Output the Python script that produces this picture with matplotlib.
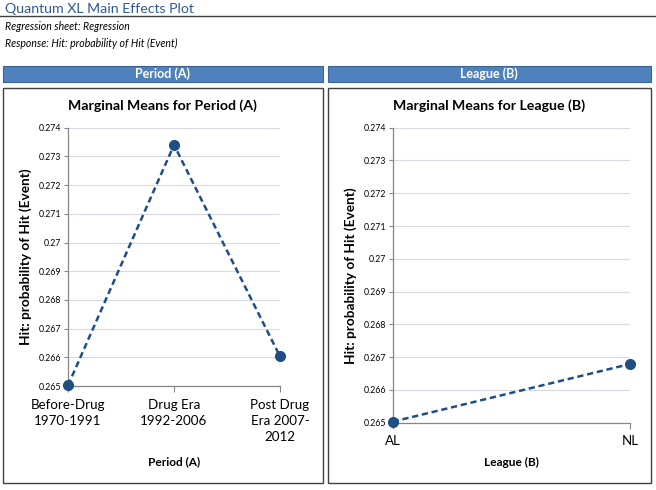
import matplotlib
matplotlib.use("Agg")
import matplotlib.pyplot as plt
from matplotlib.patches import Rectangle
from matplotlib.lines import Line2D

plt.rcParams['font.family'] = ['Lato', 'DejaVu Sans']

# data
period_labels = ["Before-Drug\n1970-1991", "Drug Era\n1992-2006", "Post Drug\nEra 2007-\n2012"]
period_means = [0.26502, 0.27340, 0.26603]
league_labels = ["AL", "NL"]
league_means = [0.26503, 0.26679]
y_ticks = [0.265, 0.266, 0.267, 0.268, 0.269, 0.27, 0.271, 0.272, 0.273, 0.274]

W, H = 656, 490
fig = plt.figure(figsize=(W / 100, H / 100), dpi=100)

def fx(x):
    return x / W

def fy(y):
    return 1 - y / H

def rect(x0, y0, x1, y1, **kw):
    fig.add_artist(Rectangle((fx(x0), fy(y1)), fx(x1) - fx(x0), fy(y0) - fy(y1),
                             transform=fig.transFigure, **kw))

navy = "#1F4E85"
grid_c = "#D9D9E6"
spine_c = "#868686"

# header text
fig.text(fx(5), fy(9), "Quantum XL Main Effects Plot", fontsize=10.2, color="#2E5A95",
         ha="left", va="center")
fig.add_artist(Line2D([0, 1], [fy(16.5), fy(16.5)], transform=fig.transFigure,
                      color="#404040", lw=1))
fig.text(fx(5), fy(26.5), "Regression sheet: Regression", fontsize=7.6, style="italic",
         ha="left", va="center")
fig.text(fx(5), fy(43), "Response: Hit: probability of Hit (Event)", fontsize=7.6,
         style="italic", ha="left", va="center")

panels = [(2.7, 322.7), (327.7, 650.5)]
heads = ["Period (A)", "League (B)"]
for (x0, x1), h in zip(panels, heads):
    rect(x0, 65.7, x1, 81.7, facecolor="#4F81BD", edgecolor="#3A6496", lw=0.8)
    fig.text(fx((x0 + x1) / 2), fy(73.7), h, color="white", fontsize=9, fontweight="bold",
             ha="center", va="center")
    rect(x0, 88, x1, 482.7, facecolor="none", edgecolor="#404040", lw=1)


def draw(ax, labels, means, title, xlabel, cx, xl_x, ylab_x):
    xs = list(range(len(labels)))
    ax.plot(xs, means, linestyle=(0, (2.5, 1.5)), color=navy, lw=1.8,
            marker="o", markersize=7, clip_on=False, zorder=5)
    ax.set_xlim(0, len(labels) - 1)
    ax.set_ylim(0.265, 0.274)
    ax.set_yticks(y_ticks)
    ax.set_yticklabels([f"{t:g}" for t in y_ticks], fontsize=6.3)
    ax.set_xticks(xs)
    ax.set_xticklabels(labels, fontsize=9.6, linespacing=1.4)
    ax.grid(axis="y", color=grid_c, lw=0.8)
    ax.set_axisbelow(True)
    for s in ["top", "right"]:
        ax.spines[s].set_visible(False)
    for s in ["left", "bottom"]:
        ax.spines[s].set_color(spine_c)
        ax.spines[s].set_linewidth(0.9)
    ax.tick_params(axis="y", length=3, color=spine_c, pad=2)
    ax.tick_params(axis="x", length=4, color=spine_c, pad=5)
    fig.text(fx(cx), fy(106), title, fontsize=10.2, fontweight="bold", ha="center", va="center")
    fig.text(fx(xl_x), fy(462), xlabel, fontsize=8.6, fontweight="bold", ha="center", va="center")
    ax.set_ylabel("Hit: probability of Hit (Event)", fontsize=9.8, fontweight="bold")
    ax.yaxis.set_label_coords(ylab_x, 0.5)


ax1 = fig.add_axes([fx(68), fy(386), fx(280) - fx(68), fy(127.7) - fy(386)])
draw(ax1, period_labels, period_means, "Marginal Means for Period (A)", "Period (A)",
     162.7, 174, -(68 - 32) / (280 - 68))

ax2 = fig.add_axes([fx(392.7), fy(422.7), fx(630) - fx(392.7), fy(127.7) - fy(422.7)])
draw(ax2, league_labels, league_means, "Marginal Means for League (B)", "League (B)",
     489, 511, -(392.7 - 357) / (630 - 392.7))

fig.savefig("out.png", dpi=100)
